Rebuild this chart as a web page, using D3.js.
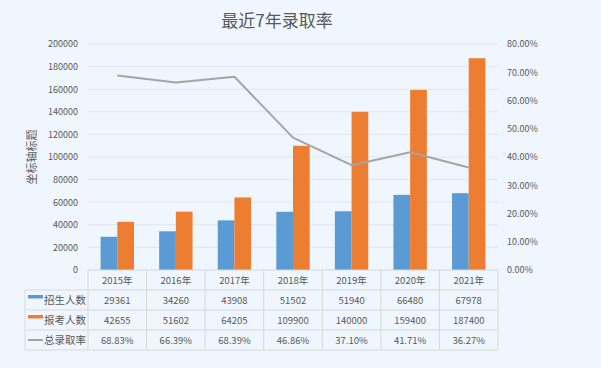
<!DOCTYPE html>
<html><head><meta charset="utf-8">
<script src="https://cdn.jsdelivr.net/npm/d3@7"></script>
<style>
html,body{margin:0;padding:0;background:#eff6fd;}
svg{display:block;}
text{font-family:"Noto Sans CJK SC","Noto Sans",sans-serif;fill:#595959;}
</style></head>
<body>
<svg id="chart" width="601" height="368"></svg>
<script>
const years = ["2015年","2016年","2017年","2018年","2019年","2020年","2021年"];
const enrolled = [29361,34260,43908,51502,51940,66480,67978];
const applicants = [42655,51602,64205,109900,140000,159400,187400];
const rate = [68.83,66.39,68.39,46.86,37.10,41.71,36.27];
const rateLabels = ["68.83%","66.39%","68.39%","46.86%","37.10%","41.71%","36.27%"];
const leftTicks = [0,20000,40000,60000,80000,100000,120000,140000,160000,180000,200000];
const rightTicks = [0,10,20,30,40,50,60,70,80];
const seriesNames = ["招生人数","报考人数","总录取率"];
const colors = ["#5b9bd5","#ed7d31","#a5a5a5"];

const svg = d3.select("#chart");
const L = 88, R = 498, T = 44, B = 270;

const x = d3.scaleBand().domain(years).range([L, R]);
const yL = d3.scaleLinear().domain([0,200000]).range([B, T]);
const yR = d3.scaleLinear().domain([0,80]).range([B, T]);

// title
svg.append("text").attr("x", 277).attr("y", 27).attr("text-anchor","middle")
  .style("font-size","17px").text("最近7年录取率");

// gridlines
svg.append("g").selectAll("line").data(leftTicks.filter(d=>d>0)).join("line")
  .attr("x1", L).attr("x2", R).attr("y1", d=>yL(d)).attr("y2", d=>yL(d))
  .attr("stroke","#dfe6ee").attr("stroke-width",1);

// left axis
const gL = svg.append("g").attr("transform",`translate(${L},0)`)
  .call(d3.axisLeft(yL).tickValues(leftTicks).tickSize(0).tickPadding(10).tickFormat(d3.format("d")));
gL.select(".domain").remove();
gL.selectAll("text").style("font-size","9px").style("fill","#595959").attr("font-family", null);

// right axis
const gR = svg.append("g").attr("transform",`translate(${R},0)`)
  .call(d3.axisRight(yR).tickValues(rightTicks).tickSize(0).tickPadding(9).tickFormat(d=>d.toFixed(2)+"%"));
gR.select(".domain").remove();
gR.selectAll("text").style("font-size","9px").style("fill","#595959").attr("font-family", null);

// axis title
svg.append("text").attr("transform","translate(36,157) rotate(-90)").attr("text-anchor","middle")
  .style("font-size","11px").text("坐标轴标题");

// bars
const bw = x.bandwidth()*0.285;
const bars = svg.append("g");
bars.selectAll("rect.e").data(years).join("rect").attr("class","e")
  .attr("x", d=>x(d)+x.bandwidth()/2-bw).attr("width", bw)
  .attr("y", (d,i)=>yL(enrolled[i])).attr("height",(d,i)=>B-yL(enrolled[i]))
  .attr("fill", colors[0]);
bars.selectAll("rect.a").data(years).join("rect").attr("class","a")
  .attr("x", d=>x(d)+x.bandwidth()/2).attr("width", bw)
  .attr("y", (d,i)=>yL(applicants[i])).attr("height",(d,i)=>B-yL(applicants[i]))
  .attr("fill", colors[1]);

// line
const line = d3.line().x((d,i)=>x(years[i])+x.bandwidth()/2).y(d=>yR(d));
svg.append("path").datum(rate).attr("d", line).attr("fill","none")
  .attr("stroke", colors[2]).attr("stroke-width",2).attr("stroke-linejoin","round");

// data table
const rowH = 20;
const tbl = svg.append("g");
const tL = 25;
const bc = "#d9d9d9";
// horizontal lines
[B, B+rowH, B+2*rowH, B+3*rowH, B+4*rowH].forEach((yy,k)=>{
  tbl.append("line").attr("x1", k===0 ? L : tL).attr("x2", R).attr("y1", yy).attr("y2", yy)
    .attr("stroke", k===0 ? "#d0d6dd" : bc).attr("stroke-width",1);
});
// vertical lines
const vx = [L].concat(years.map(d=>x(d)+x.bandwidth()));
vx.forEach(xx=>{
  tbl.append("line").attr("x1", xx).attr("x2", xx).attr("y1", B).attr("y2", B+4*rowH)
    .attr("stroke", bc).attr("stroke-width",1);
});
tbl.append("line").attr("x1", tL).attr("x2", tL).attr("y1", B+rowH).attr("y2", B+4*rowH)
  .attr("stroke", bc).attr("stroke-width",1);

// header
tbl.selectAll("text.h").data(years).join("text").attr("class","h")
  .attr("x", d=>x(d)+x.bandwidth()/2).attr("y", B+rowH/2+3.5).attr("text-anchor","middle")
  .style("font-size","9.5px").text(d=>d);
const rows = [enrolled.map(String), applicants.map(String), rateLabels];
rows.forEach((vals,r)=>{
  tbl.selectAll("text.r"+r).data(vals).join("text").attr("class","r"+r)
    .attr("x", (d,i)=>x(years[i])+x.bandwidth()/2).attr("y", B+rowH*(r+1)+rowH/2+3.5)
    .attr("text-anchor","middle").style("font-size","9.5px").text(d=>d);
  const cy = B+rowH*(r+1)+rowH/2;
  if (r<2) {
    tbl.append("rect").attr("x",28).attr("y",cy-5).attr("width",15).attr("height",3.5).attr("fill",colors[r]);
  } else {
    tbl.append("line").attr("x1",28).attr("x2",43).attr("y1",cy).attr("y2",cy)
      .attr("stroke",colors[2]).attr("stroke-width",2);
  }
  tbl.append("text").attr("x",44).attr("y",cy+4).style("font-size","10.5px").text(seriesNames[r]);
});
</script>
</body></html>
